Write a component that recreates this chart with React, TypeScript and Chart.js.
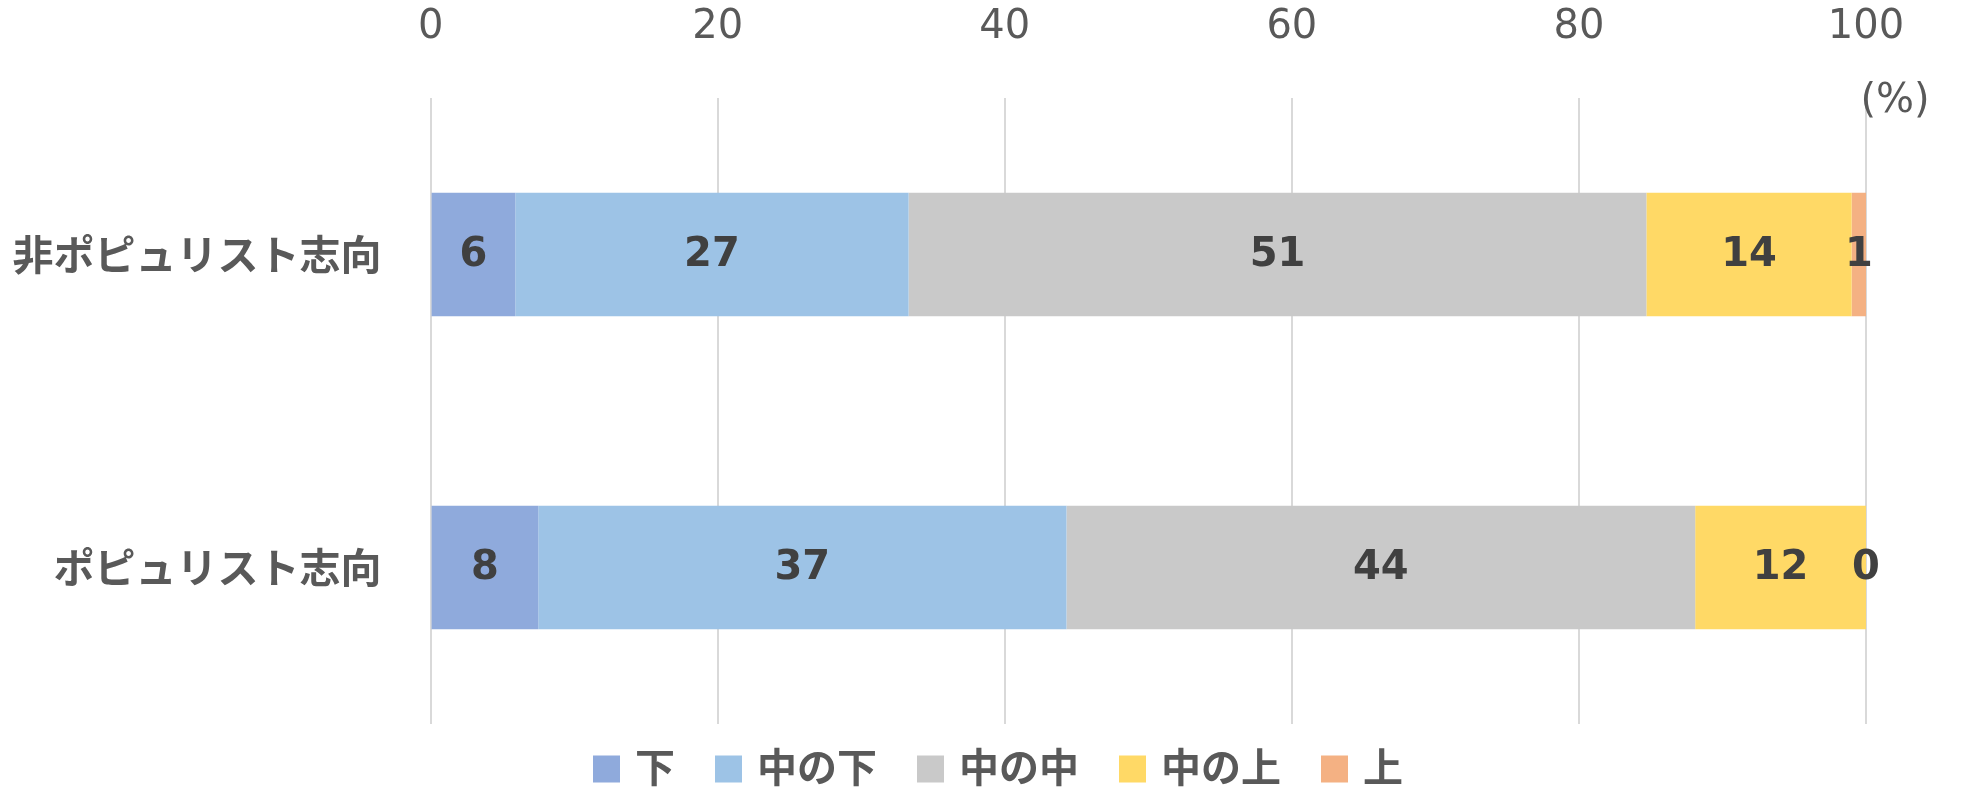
import React, { useEffect, useRef } from "react";
import { Chart, registerables } from "chart.js";

Chart.register(...registerables);

const categories = ["非ポピュリスト志向", "ポピュリスト志向"];
const seriesNames = ["下", "中の下", "中の中", "中の上", "上"];
const valuesLow = [5.9, 7.5];
const valuesMidLow = [27.4, 36.8];
const valuesMidMid = [51.4, 43.8];
const valuesMidHigh = [14.3, 11.9];
const valuesHigh = [1.0, 0.0];
const seriesColors = ["#8FAADC", "#9DC3E6", "#C9C9C9", "#FFD966", "#F4B183"];
const xTicks = [0, 20, 40, 60, 80, 100];
const unitLabel = "(%)";

const LATIN = "'DejaVu Sans', 'Noto Sans CJK JP', sans-serif";
const CJK = "'Noto Sans CJK JP', 'DejaVu Sans', sans-serif";

const dataLabelPlugin = {
  id: "dataLabels",
  afterDatasetsDraw(chart: any) {
    const ctx = chart.ctx;
    ctx.save();
    ctx.font = `bold 40px ${LATIN}`;
    ctx.fillStyle = "#404040";
    ctx.textAlign = "center";
    ctx.textBaseline = "middle";
    chart.data.datasets.forEach((ds: any, di: number) => {
      const meta = chart.getDatasetMeta(di);
      meta.data.forEach((bar: any, i: number) => {
        const { x, base, y } = bar.getProps(["x", "base", "y"], true);
        const v = ds.data[i];
        ctx.fillText(String(Math.round(v)), (x + base) / 2, y + 1);
      });
    });
    ctx.restore();
  },
};

const extrasPlugin = {
  id: "extras",
  afterDraw(chart: any) {
    const ctx = chart.ctx;
    const area = chart.chartArea;
    ctx.save();
    // unit label
    ctx.font = `40px ${LATIN}`;
    ctx.fillStyle = "#595959";
    ctx.textAlign = "center";
    ctx.textBaseline = "middle";
    ctx.fillText(unitLabel, area.right + 29, area.top + 4);

    // legend
    ctx.font = `bold 40px ${CJK}`;
    const box = 27;
    const gap = 15;
    const spacing = 40;
    const widths = seriesNames.map((n) => ctx.measureText(n).width);
    let total = 0;
    widths.forEach((w, i) => {
      total += box + gap + w + (i < widths.length - 1 ? spacing : 0);
    });
    let x = chart.width / 2 + 11 - total / 2;
    const cy = area.bottom + 43;
    ctx.textAlign = "left";
    seriesNames.forEach((n, i) => {
      ctx.fillStyle = seriesColors[i];
      ctx.fillRect(x, cy - box / 2 + 2, box, box);
      ctx.fillStyle = "#595959";
      ctx.fillText(n, x + box + gap, cy);
      x += box + gap + widths[i] + spacing;
    });
    ctx.restore();
  },
};

export default function App() {
  const ref = useRef<HTMLCanvasElement | null>(null);

  useEffect(() => {
    if (!ref.current) return;
    const seriesValues = [valuesLow, valuesMidLow, valuesMidMid, valuesMidHigh, valuesHigh];
    const chart = new Chart(ref.current, {
      type: "bar",
      data: {
        labels: categories,
        datasets: seriesNames.map((name, i) => ({
          label: name,
          data: seriesValues[i],
          backgroundColor: seriesColors[i],
          borderWidth: 0,
          barPercentage: 0.395,
          categoryPercentage: 1,
        })),
      },
      options: {
        indexAxis: "y",
        animation: false,
        responsive: false,
        devicePixelRatio: 1,
        layout: { padding: { top: 0, right: 108, bottom: 82, left: 0 } },
        plugins: {
          legend: { display: false },
          tooltip: { enabled: false },
          title: { display: false },
        },
        scales: {
          x: {
            position: "top",
            stacked: true,
            min: 0,
            max: 100,
            afterBuildTicks(scale: any) {
              scale.ticks = xTicks.map((v) => ({ value: v }));
            },
            afterFit(scale: any) {
              scale.height = 98;
            },
            grid: { color: "#D9D9D9", lineWidth: 2, drawTicks: false },
            border: { display: false },
            ticks: {
              padding: 46,
              color: "#595959",
              font: { family: LATIN, size: 40 },
              maxRotation: 0,
            },
          },
          y: {
            stacked: true,
            afterFit(scale: any) {
              scale.width = 430.6;
            },
            grid: { display: false, drawTicks: false },
            border: { display: false },
            ticks: {
              padding: 49,
              color: "#595959",
              font: { family: CJK, size: 41, weight: "bold" },
            },
          },
        },
      },
      plugins: [dataLabelPlugin, extrasPlugin],
    } as any);
    return () => chart.destroy();
  }, []);

  return (
    <div style={{ position: "absolute", left: 0, top: 0, width: 1974, height: 806, background: "#fff" }}>
      <canvas ref={ref} width={1974} height={806} style={{ display: "block", width: 1974, height: 806 }} />
    </div>
  );
}
